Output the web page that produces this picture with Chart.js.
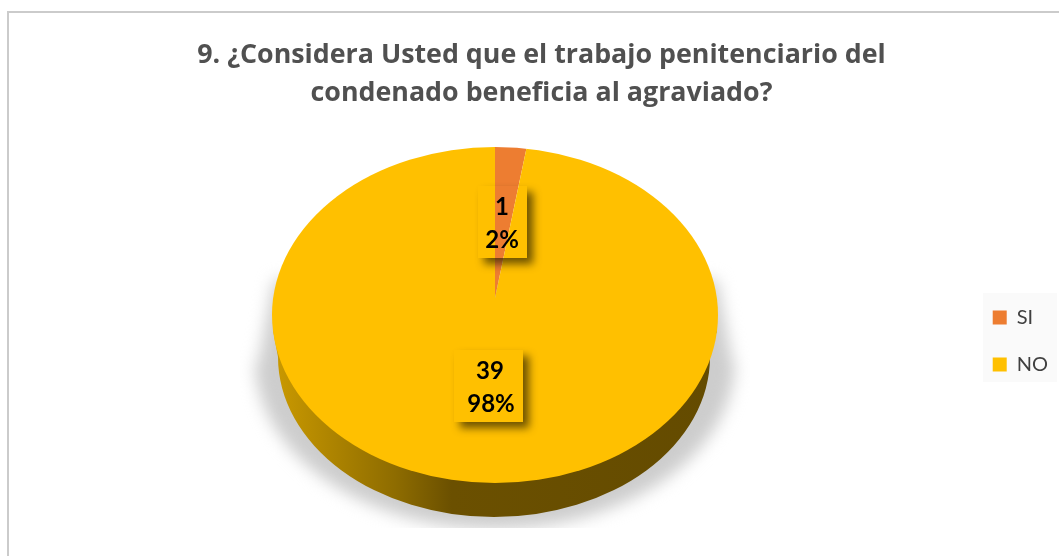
<!DOCTYPE html>
<html><head><meta charset="utf-8">
<style>html,body{margin:0;padding:0;background:#fff}#w{position:absolute;left:0;top:0;width:1059px;height:556px}</style>
<script src="https://cdn.jsdelivr.net/npm/chart.js@4"></script></head>
<body><div id="w"><canvas id="c" width="1059" height="556"></canvas></div>
<script>
const categories = ['SI', 'NO'];
const seriesValues = [1, 39];
const percentLabels = ['2%', '98%'];
const titleLines = ['9. ¿Considera Usted que el trabajo penitenciario del', 'condenado beneficia al agraviado?'];
const sliceColors = ['#ED7D31', '#FFC000'];

// 3D look of the pie (page geometry, not data)
const pivot = {x: 495, y: 298};
const topFace = {x: 495, y: 315, rx: 223, ry: 168};
const baseFace = {x: 494, y: 357, rx: 216, ry: 160};
const labelBoxes = [
  {l: 478, t: 186, r: 527, b: 258, x: 502, y1: 207, y2: 240},
  {l: 454, t: 350, r: 523, b: 422, x: 490, y1: 371, y2: 404}
];

const pie3d = {
  id: 'pie3d',
  afterLayout(chart) {
    const lg = chart.legend; const s = 80;
    lg.top += s; lg.bottom += s; lg.left += 1; lg.right += 1;
  },
  beforeDraw(chart) {
    const c = chart.ctx;
    c.save();
    c.fillStyle = '#fff'; c.fillRect(0, 0, 1059, 556);
    c.fillStyle = '#cbcbcb';
    c.fillRect(7, 11, 1052, 2); c.fillRect(7, 11, 2, 545);
    c.fillStyle = '#fafafa'; c.fillRect(983, 293, 74, 89);
    c.restore();
  },
  beforeDatasetsDraw(chart) {
    const c = chart.ctx;
    const arc = chart.getDatasetMeta(0).data[0];
    // soft ground shadow
    c.save();
    c.beginPath(); c.rect(240, 240, 510, 288); c.clip();
    c.filter = 'blur(8px)';
    c.fillStyle = '#cdcdcd';
    c.beginPath();
    c.moveTo(274, 280); c.lineTo(717, 280); c.lineTo(733, 365);
    c.ellipse(495, 360, 240, 169, 0, 0, Math.PI);
    c.lineTo(258, 365); c.closePath(); c.fill();
    c.restore();
    // side wall
    c.save();
    const g = c.createLinearGradient(278, 0, 712, 0);
    g.addColorStop(0, '#c89800'); g.addColorStop(0.27, '#8e6c00');
    g.addColorStop(0.4, '#6b5000'); g.addColorStop(1, '#644b00');
    c.fillStyle = g;
    c.beginPath();
    c.moveTo(topFace.x - topFace.rx + 1, topFace.y + 15);
    c.lineTo(baseFace.x - baseFace.rx, baseFace.y);
    c.ellipse(baseFace.x, baseFace.y, baseFace.rx, baseFace.ry, 0, Math.PI, 0, true);
    c.lineTo(topFace.x + topFace.rx - 1, topFace.y + 15);
    c.closePath(); c.fill();
    c.restore();
    // top face: library arcs seen through a tilt, trimmed to the rim
    c.save();
    c.beginPath();
    c.ellipse(topFace.x, topFace.y, topFace.rx, topFace.ry, 0, 0, Math.PI * 2);
    c.clip();
    c.translate(pivot.x, pivot.y);
    c.scale(1, topFace.ry / topFace.rx);
    c.translate(-arc.x, -arc.y);
  },
  afterDatasetsDraw(chart) {
    const c = chart.ctx;
    c.restore();
    labelBoxes.forEach((b, i) => {
      c.save();
      c.beginPath();
      c.rect(0, 0, 1059, 556);
      c.rect(b.l, b.t, b.r - b.l, b.b - b.t);
      c.clip('evenodd');
      c.filter = 'blur(4px)';
      c.fillStyle = 'rgba(40,30,0,0.68)';
      c.fillRect(b.l + 6, b.t + 6, b.r - b.l, b.b - b.t);
      c.restore();
      c.save();
      c.fillStyle = '#000';
      c.font = 'bold 24px Lato';
      c.textAlign = 'center'; c.textBaseline = 'middle';
      c.fillText(String(seriesValues[i]), b.x, b.y1);
      c.fillText(percentLabels[i], b.x + (i ? 1 : 0), b.y2);
      c.restore();
    });
  }
};

new Chart(document.getElementById('c'), {
  type: 'pie',
  data: {
    labels: categories,
    datasets: [{data: seriesValues, backgroundColor: sliceColors, borderWidth: 0, clip: false}]
  },
  plugins: [pie3d],
  options: {
    responsive: false,
    animation: false,
    radius: 262,
    layout: {padding: {left: 26, right: 2, top: 36, bottom: 70}},
    plugins: {
      tooltip: {enabled: false},
      title: {
        display: true, text: titleLines, color: '#505050',
        font: {family: 'Open Sans', size: 26.8, weight: 'bold', lineHeight: 1.42},
        padding: {top: 0, bottom: 8}
      },
      legend: {
        position: 'right',
        labels: {
          boxWidth: 14, boxHeight: 14, padding: 27, color: '#404040',
          font: {family: 'Lato', size: 20}
        }
      }
    }
  }
});
</script></body></html>
